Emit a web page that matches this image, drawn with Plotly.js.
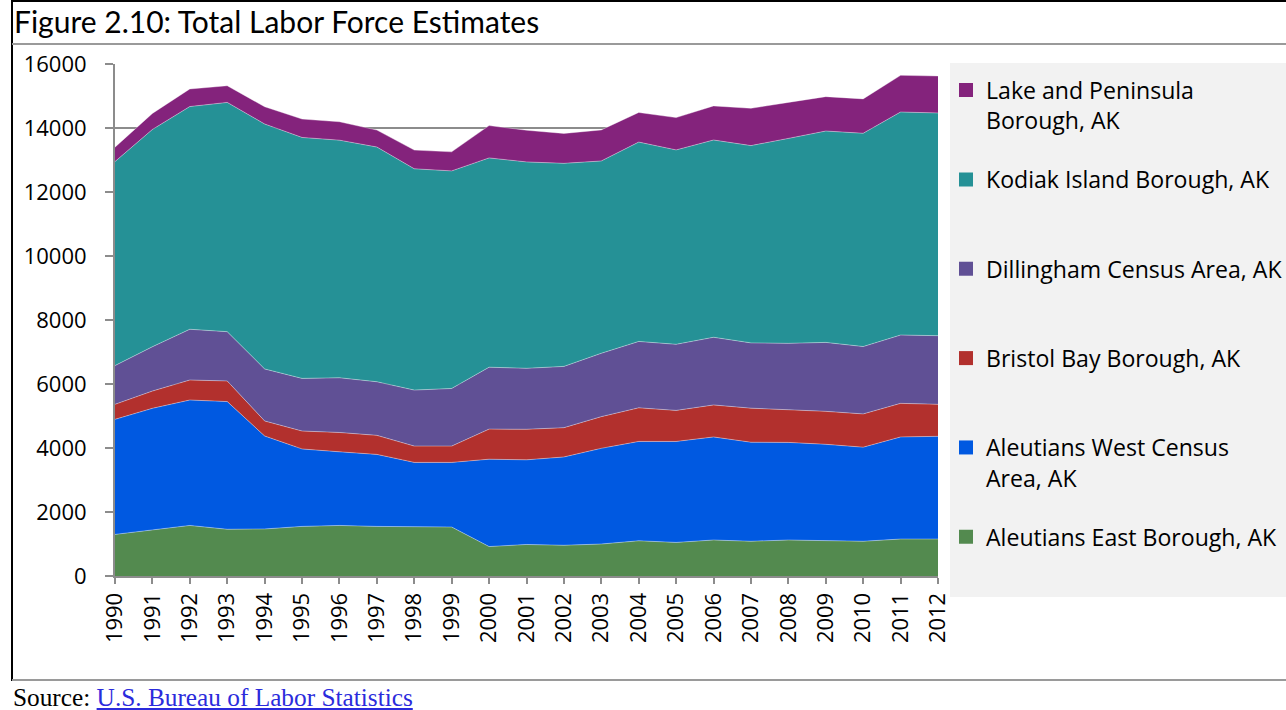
<!DOCTYPE html>
<html>
<head>
<meta charset="utf-8">
<script src="https://cdn.plot.ly/plotly-3.0.1.min.js"></script>
<style>
  html, body { margin: 0; padding: 0; background: #ffffff; }
  #chart { width: 1286px; height: 710px; }
</style>
</head>
<body>
<div id="chart"></div>
<script>
// ---- Data ----
const years = [1990, 1991, 1992, 1993, 1994, 1995, 1996, 1997, 1998, 1999, 2000, 2001,
               2002, 2003, 2004, 2005, 2006, 2007, 2008, 2009, 2010, 2011, 2012];
const aleutiansEast = [1300, 1440, 1580, 1460, 1470, 1550, 1580, 1550, 1540, 1530, 920, 985,
                       960, 1000, 1100, 1050, 1125, 1085, 1125, 1105, 1085, 1155, 1155];
const aleutiansWest = [3595, 3800, 3920, 3990, 2905, 2420, 2300, 2250, 2010, 2020, 2730, 2645,
                       2760, 2990, 3105, 3155, 3220, 3095, 3050, 3010, 2940, 3190, 3210];
const bristolBay = [470, 540, 625, 645, 470, 560, 605, 595, 510, 510, 940, 955,
                    915, 990, 1050, 970, 1000, 1065, 1020, 1030, 1040, 1050, 1000];
const dillingham = [1210, 1385, 1585, 1540, 1625, 1645, 1710, 1675, 1750, 1800, 1935, 1905,
                    1915, 1980, 2075, 2065, 2115, 2040, 2075, 2155, 2105, 2135, 2145];
const kodiak = [6375, 6790, 6960, 7165, 7655, 7530, 7425, 7335, 6915, 6800, 6540, 6450,
                6345, 6010, 6230, 6075, 6165, 6165, 6405, 6605, 6665, 6970, 6960];
const lakePeninsula = [450, 500, 550, 520, 540, 575, 575, 530, 585, 595, 1010, 990,
                       935, 970, 925, 1010, 1065, 1165, 1125, 1075, 1075, 1145, 1155];

const seriesNames = ["Aleutians East Borough, AK", "Aleutians West Census Area, AK",
                     "Bristol Bay Borough, AK", "Dillingham Census Area, AK",
                     "Kodiak Island Borough, AK", "Lake and Peninsula Borough, AK"];
const legendLabels = ["Aleutians East Borough, AK", "Aleutians West Census<br>Area, AK",
                      "Bristol Bay Borough, AK", "Dillingham Census Area, AK",
                      "Kodiak Island Borough, AK", "Lake and Peninsula<br>Borough, AK"];
const seriesValues = [aleutiansEast, aleutiansWest, bristolBay, dillingham, kodiak, lakePeninsula];
const colors = ["#538a4f", "#0059e1", "#b2302d", "#605095", "#259196", "#84237c"];

const titleText = "Figure 2.10: Total Labor Force Estimates";
const sourceLabel = "Source: ";
const sourceLink = "U.S. Bureau of Labor Statistics";

// ---- Layout geometry ----
const W = 1286, H = 710;
const L = 115, R = 938, T = 64, B = 576;
const pw = R - L, ph = B - T;
const px = x => (x - L) / pw;
const py = y => (B - y) / ph;

const traces = [];
seriesValues.forEach((vals, i) => {
  traces.push({
    type: "scatter",
    mode: "lines",
    x: years,
    y: vals,
    name: seriesNames[i],
    stackgroup: "one",
    fillcolor: colors[i],
    line: { width: 0.8, color: "rgba(255,255,255,0.45)" },
    showlegend: false,
    hoverinfo: "x+y+name"
  });
});
// legend entries (top to bottom)
for (let i = seriesValues.length - 1; i >= 0; i--) {
  const lbl = legendLabels[i].indexOf("<br>") >= 0 ? legendLabels[i] : legendLabels[i] + "<br> ";
  traces.push({
    type: "scatter",
    mode: "markers",
    x: [null],
    y: [null],
    name: lbl,
    legendgroup: "g" + i,
    marker: { symbol: "square", size: 14, color: colors[i] },
    showlegend: true,
    hoverinfo: "skip"
  });
}

const gray = "#8c8c8c";
const layout = {
  width: W,
  height: H,
  margin: { l: L, r: W - R, t: T, b: H - B, pad: 0, autoexpand: false },
  paper_bgcolor: "#ffffff",
  plot_bgcolor: "rgba(0,0,0,0)",
  font: { family: "Open Sans, sans-serif", color: "#000000" },
  title: {
    text: titleText,
    font: { family: "Lato, sans-serif", size: 30, color: "#000000" },
    xref: "container", yref: "container",
    x: 14 / W, xanchor: "left",
    y: 1 - 22 / H, yanchor: "middle"
  },
  xaxis: {
    range: [1990, 2012],
    tickmode: "array",
    tickvals: years,
    ticktext: years.map(String),
    tickangle: -90,
    ticks: "outside",
    ticklen: 6,
    tickwidth: 2,
    tickcolor: gray,
    showline: true,
    linecolor: gray,
    linewidth: 2,
    showgrid: false,
    zeroline: false,
    tickfont: { family: "Open Sans, sans-serif", size: 22, color: "#000000" },
    fixedrange: true
  },
  yaxis: {
    range: [0, 16000],
    dtick: 2000,
    tick0: 0,
    tickformat: "d",
    ticks: "outside",
    ticklen: 8,
    tickwidth: 2,
    tickcolor: gray,
    showline: true,
    linecolor: gray,
    linewidth: 2,
    showgrid: true,
    gridcolor: gray,
    gridwidth: 2,
    zeroline: false,
    ticklabelstandoff: 14,
    tickfont: { family: "Open Sans, sans-serif", size: 22, color: "#000000" },
    fixedrange: true
  },
  showlegend: true,
  legend: {
    x: px(946), xanchor: "left",
    y: py(68.5), yanchor: "top",
    bgcolor: "rgba(0,0,0,0)",
    borderwidth: 0,
    traceorder: "grouped",
    tracegroupgap: 26.3,
    valign: "top",
    itemclick: false,
    itemdoubleclick: false,
    font: { family: "Open Sans, sans-serif", size: 23.1, color: "#000000" }
  },
  shapes: [
    // legend background
    { type: "rect", xref: "paper", yref: "paper", layer: "below",
      x0: px(950), x1: px(1290), y0: py(597), y1: py(63),
      fillcolor: "#f2f2f2", line: { width: 0 } },
    // outer frame: top, left (black)
    { type: "line", xref: "paper", yref: "paper",
      x0: px(12), x1: px(1290), y0: py(1), y1: py(1),
      line: { color: "#000000", width: 2 } },
    { type: "line", xref: "paper", yref: "paper",
      x0: px(12), x1: px(12), y0: py(0), y1: py(681),
      line: { color: "#000000", width: 2 } },
    // rule under the title
    { type: "line", xref: "paper", yref: "paper",
      x0: px(12), x1: px(1290), y0: py(44), y1: py(44),
      line: { color: "#9a9a9a", width: 2 } },
    // rule above the source
    { type: "line", xref: "paper", yref: "paper",
      x0: px(12), x1: px(1290), y0: py(680), y1: py(680),
      line: { color: "#9a9a9a", width: 2 } }
  ],
  annotations: [
    {
      xref: "paper", yref: "paper",
      x: px(11), xanchor: "left",
      y: py(697), yanchor: "middle",
      showarrow: false,
      align: "left",
      text: sourceLabel + "<a href='https://www.bls.gov/' style='color:#2b2bdc;text-decoration:underline'>" + sourceLink + "</a>",
      font: { family: "Liberation Serif, Times New Roman, serif", size: 25.3, color: "#000000" }
    }
  ]
};

Plotly.newPlot("chart", traces, layout, { displayModeBar: false, staticPlot: false, responsive: false });
</script>
</body>
</html>
